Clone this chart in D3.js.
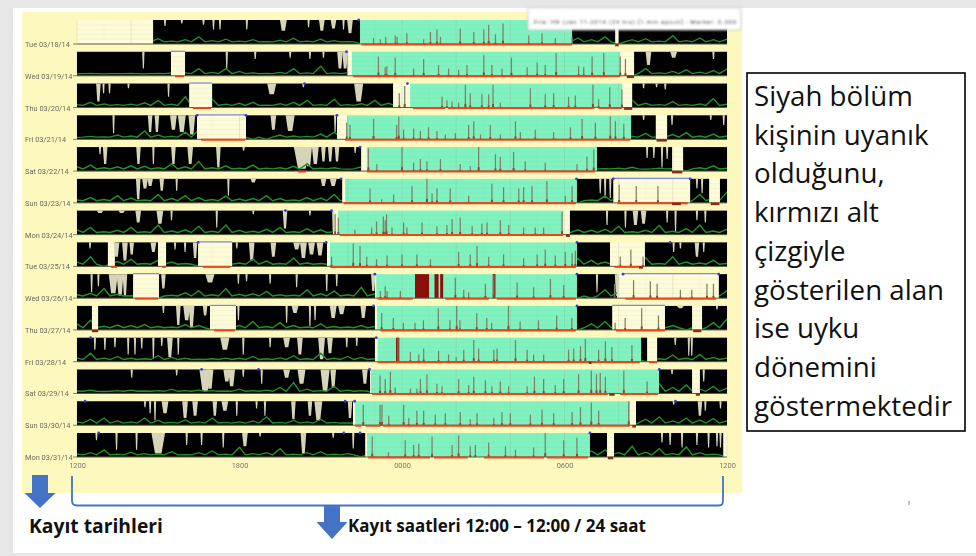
<!DOCTYPE html>
<html>
<head>
<meta charset="utf-8">
<script src="https://cdn.jsdelivr.net/npm/d3@7"></script>
<style>
  html, body { margin: 0; padding: 0; background: #fff; }
  svg { display: block; }
</style>
</head>
<body>
<svg id="chart" width="976" height="556"></svg>
<script>
// Recording days, top to bottom
const days = ["Tue 03/18/14", "Wed 03/19/14", "Thu 03/20/14", "Fri 03/21/14", "Sat 03/22/14", "Sun 03/23/14", "Mon 03/24/14",
  "Tue 03/25/14", "Wed 03/26/14", "Thu 03/27/14", "Fri 03/28/14", "Sat 03/29/14", "Sun 03/30/14", "Mon 03/31/14"];
const hourTicks = [0, 6, 12, 18, 24];
const hourLabels = ["1200", "1800", "0000", "0600", "1200"];

// All times are hours after 12:00 noon (0 - 24)
const wakeBlocks = [
  [[2.81, 10.45], [18.28, 19.87], [20.0, 24]],
  [[0, 3.47], [3.99, 9.98], [20.57, 24]],
  [[0, 4.14], [4.99, 11.67], [20.5, 24]],
  [[0, 4.43], [6.24, 9.6], [20.46, 21.37], [21.79, 24]],
  [[0, 10.49], [19.2, 21.97], [22.38, 24]],
  [[0, 9.79], [18.46, 19.8], [22.64, 23.34], [23.74, 24]],
  [[0, 9.45], [18.2, 24]],
  [[0, 1.14], [1.4, 2.99], [3.29, 4.47], [5.73, 9.23], [18.46, 19.68], [20.97, 24]],
  [[0, 2.07], [3.03, 11.0], [18.46, 19.94], [23.7, 24]],
  [[0, 0.55], [0.78, 4.91], [5.87, 11.0], [18.46, 19.76], [21.71, 22.71], [23.08, 24]],
  [[0, 11.0], [20.83, 21.05], [21.42, 24]],
  [[0, 10.82], [21.49, 22.71], [23.0, 24]],
  [[0, 10.19], [20.64, 24]],
  [[0, 10.64], [18.94, 19.57], [19.83, 23.86]]
];
const sleepBlocks = [
  [10.45, 18.28], [10.15, 20.05], [12.3, 20.13], [9.97, 20.46], [10.7, 19.2], [9.9, 18.46], [9.64, 17.95],
  [9.34, 18.46], [11.05, 18.46], [11.08, 18.46], [11.1, 20.83], [10.85, 21.49], [10.27, 20.42], [10.71, 18.94]
];
const redLines = [
  [[10.5, 18.28]],
  [[3.62, 3.95], [10.2, 20.05]],
  [[4.28, 4.95], [12.4, 13.6], [13.7, 19.1], [19.25, 20.12]],
  [[4.58, 6.2], [9.9, 20.43]],
  [[8.16, 8.46], [10.7, 19.12]],
  [[9.85, 18.42], [19.95, 22.55]],
  [[9.7, 17.95]],
  [[1.26, 1.48], [3.14, 3.29], [4.65, 5.65], [9.35, 18.42], [19.85, 20.9]],
  [[2.14, 2.99], [11.1, 12.4], [13.6, 15.2], [15.5, 18.42], [20.25, 23.6]],
  [[5.06, 5.83], [11.2, 18.42], [19.9, 21.71]],
  [[11.1, 20.78], [21.12, 21.42]],
  [[10.9, 19.6], [20.05, 21.45]],
  [[10.27, 10.5], [10.65, 11.2], [11.3, 20.4]],
  [[10.75, 13.03], [13.18, 14.43], [15.03, 17.24], [17.35, 18.86]]
];
const darkMarks = [
  [[19.87, 20.0]], [[20.3, 20.57]], [[20.2, 20.5]], [[21.4, 21.78]], [[21.97, 22.35]], [[21.97, 22.3], [23.4, 23.72]], [[18.05, 18.2]],
  [[20.75, 20.9]], [], [[0.55, 0.78], [22.75, 23.05]], [[18.9, 19.0]], [[19.65, 19.85], [22.85, 23.0]], [[20.5, 20.64]], [[19.6, 19.8]]
];
// Top edge of the rest intervals
const blueLines = [
  [], [[3.47, 3.99]], [[4.14, 4.99]], [[4.43, 6.24]], [], [[19.8, 22.64]], [], [[4.47, 5.73]],
  [[2.07, 3.03], [20.16, 23.7]], [[4.91, 5.87], [19.76, 21.71]], [], [], [], []
];
const blueDots = [
  [10.4], [9.95], [8.4, 12.2], [4.43, 6.24, 9.6], [10.45], [9.75, 18.44, 19.8, 22.64], [7.7, 9.4],
  [4.47, 9.2, 18.46, 21.9], [11.0, 18.46, 20.16, 23.7], [10.95, 18.46], [0.5, 11.05], [4.6, 6.7, 10.8, 21.5], [0.3, 9.9, 10.25, 22.1], [0.8, 9.85, 10.45, 18.94]
];
// Off-wrist / very high activity blocks during the night
const offBlocks = [[], [], [], [], [], [], [], [], [[12.48, 13.0], [13.2, 13.35], [13.41, 13.52], [15.35, 15.45]], [], [[11.78, 11.9]], [], [], []];

// [hour, height in percent of the row] activity spikes during rest
const spikes = [
  [[10.95, 25], [11.2, 20], [11.4, 30], [11.75, 35], [11.82, 30], [12.18, 45], [12.8, 20], [13.05, 50], [13.29, 60], [13.42, 30], [14.15, 65], [14.65, 50], [15.02, 60], [15.2, 80], [15.45, 40], [15.73, 85], [16.68, 35], [17.17, 45], [17.66, 25], [18.28, 30]],
  [[11.13, 80], [11.38, 35], [11.44, 40], [11.75, 75], [12.43, 30], [12.8, 70], [13.35, 45], [13.72, 30], [14.09, 25], [14.4, 45], [15.02, 85], [15.32, 45], [15.69, 30], [16.04, 75], [16.62, 35], [16.99, 55], [17.29, 45], [17.69, 95], [18.52, 40], [18.71, 35], [19.02, 80], [19.45, 95], [20.06, 80], [20.25, 70]],
  [[11.9, 60], [12.1, 90], [13.48, 45], [13.66, 30], [13.85, 25], [14.09, 20], [14.34, 95], [14.52, 60], [14.95, 55], [15.2, 55], [15.36, 95], [15.63, 20], [16.74, 80], [17.29, 55], [17.6, 60], [18.15, 45], [18.4, 50], [19.05, 95], [19.26, 35], [19.67, 85], [20.12, 75]],
  [[9.96, 70], [10.08, 60], [10.95, 85], [11.8, 60], [11.88, 95], [12.06, 40], [12.43, 45], [12.68, 35], [12.98, 50], [13.29, 35], [13.6, 20], [13.97, 25], [14.46, 60], [14.65, 75], [14.9, 20], [15.26, 60], [15.63, 20], [16.19, 75], [16.37, 30], [16.92, 40], [17.6, 30], [18.22, 50], [18.65, 85], [19.14, 70], [19.69, 95], [19.88, 75], [20.19, 65]],
  [[10.76, 95], [11.07, 30], [12.0, 100], [12.43, 35], [12.68, 50], [12.92, 40], [13.42, 50], [14.15, 30], [14.52, 20], [14.83, 100], [15.45, 70], [15.63, 60], [16.12, 80], [16.55, 40], [17.29, 35], [18.46, 30], [18.83, 60], [19.08, 90]],
  [[10.82, 60], [11.25, 15], [11.69, 35], [12.37, 70], [12.92, 100], [13.11, 40], [13.29, 60], [13.78, 60], [14.46, 30], [15.32, 80], [15.75, 65], [16.31, 60], [16.49, 65], [16.8, 70], [17.35, 90], [18.03, 30], [18.28, 70], [20.02, 75], [20.65, 70], [21.45, 70]],
  [[9.53, 85], [9.65, 70], [10.26, 20], [10.88, 30], [11.06, 55], [11.31, 75], [11.38, 60], [11.43, 85], [11.63, 30], [12.06, 50], [12.18, 30], [12.74, 50], [13.29, 35], [13.66, 40], [13.85, 65], [14.15, 70], [14.59, 35], [14.95, 45], [15.14, 50], [15.63, 60], [15.94, 40], [16.49, 30], [16.92, 30], [17.23, 30], [17.91, 95]],
  [[9.4, 40], [10.2, 95], [10.45, 85], [10.7, 40], [11.06, 30], [11.45, 45], [12.0, 50], [12.55, 50], [13.05, 30], [14.09, 60], [14.52, 50], [14.77, 85], [15.2, 40], [15.75, 50], [16.49, 35], [16.99, 50], [17.29, 70], [17.66, 45], [18.03, 60], [18.28, 55], [18.4, 65], [20.06, 40], [20.45, 70], [20.9, 40]],
  [[11.2, 30], [11.38, 50], [11.45, 30], [11.94, 30], [13.97, 85], [14.28, 35], [14.46, 25], [15.08, 60], [15.39, 95], [16.25, 65], [16.86, 45], [17.48, 80], [17.97, 55], [19.85, 60], [20.55, 75], [21.17, 70], [21.42, 60], [22.28, 35], [22.7, 35], [23.26, 60], [23.5, 60]],
  [[11.25, 70], [11.68, 50], [12.05, 30], [12.48, 30], [12.79, 40], [13.34, 90], [13.77, 40], [14.02, 100], [14.14, 40], [14.76, 70], [15.13, 50], [15.31, 30], [15.93, 100], [16.36, 35], [17.04, 40], [17.71, 60], [18.27, 50], [19.87, 30], [20.24, 50], [20.85, 90], [21.47, 60]],
  [[11.85, 100], [12.31, 40], [12.62, 30], [12.8, 55], [13.35, 45], [13.72, 30], [14.0, 20], [14.28, 50], [14.65, 90], [14.83, 55], [15.39, 50], [15.51, 55], [16.19, 90], [16.62, 50], [16.86, 30], [17.23, 30], [18.15, 50], [18.34, 55], [18.59, 65], [18.77, 95], [19.26, 50], [19.51, 85], [19.75, 60], [20.49, 70]],
  [[11.19, 75], [11.38, 60], [11.57, 90], [11.75, 25], [12.31, 20], [12.55, 20], [12.68, 60], [12.92, 80], [13.29, 40], [13.48, 30], [14.09, 60], [14.46, 35], [14.65, 70], [15.08, 55], [15.32, 30], [15.63, 50], [15.94, 30], [16.62, 30], [16.89, 70], [17.23, 60], [17.66, 35], [17.97, 60], [18.52, 80], [18.99, 95], [19.18, 80], [19.32, 85], [19.51, 70], [20.19, 95], [21.05, 50]],
  [[10.57, 85], [11.19, 85], [11.26, 85], [11.51, 40], [12.06, 85], [12.25, 30], [12.55, 60], [12.8, 60], [13.23, 45], [13.6, 50], [14.15, 55], [14.52, 25], [14.77, 50], [15.39, 30], [15.69, 55], [16.0, 50], [16.74, 45], [17.17, 65], [17.6, 50], [18.28, 55], [18.59, 75], [18.99, 95], [19.26, 60], [20.37, 100]],
  [[10.9, 85], [11.5, 20], [12.12, 70], [12.43, 50], [12.62, 55], [13.11, 85], [13.85, 50], [14.09, 90], [14.52, 45], [14.71, 50], [15.2, 60], [15.82, 45], [16.19, 30], [16.86, 40], [17.29, 100], [17.97, 70], [18.46, 80]]
];

// [hour, depth in percent of the row, optional width in hours] gaps in the black wake trace
const notches = [
  [[3.25, 25], [3.87, 15], [4.67, 20], [5.04, 40], [5.28, 40], [6.27, 40], [7.62, 45, 0.3], [8.55, 30], [9.04, 45, 0.25], [9.47, 35, 0.25], [9.84, 40], [10.08, 55, 0.25], [22.28, 30], [22.59, 30], [23.76, 30]],
  [[2.45, 70], [5.53, 70], [6.58, 30], [7.87, 25], [8.6, 30], [9.1, 25], [9.71, 70, 0.25], [9.9, 70, 0.25], [21.1, 55, 0.25], [22.03, 25, 0.3], [23.5, 30]],
  [[0.79, 75, 0.2], [0.98, 40], [1.2, 40], [1.9, 20], [3.38, 55], [7.19, 45, 0.4], [8.36, 15], [10.4, 75, 0.4], [20.92, 20], [21.4, 15], [21.72, 25]],
  [[1.35, 75], [2.7, 70, 0.2], [2.95, 70, 0.2], [3.56, 60, 0.3], [3.87, 70, 0.35], [4.24, 80, 0.3], [7.25, 60, 0.25], [7.87, 65, 0.4], [9.53, 70], [20.92, 20], [21.97, 40], [23.4, 20], [23.88, 40]],
  [[0.85, 30], [1.04, 70, 0.2], [2.27, 70, 0.2], [2.82, 70], [3.56, 70, 0.2], [4.18, 70, 0.25], [5.22, 85, 0.2], [6.15, 15], [8.3, 90, 0.7], [8.55, 80, 0.3], [8.8, 70, 0.3], [9.1, 60, 0.2], [9.35, 60, 0.2], [9.6, 60, 0.2], [10.27, 25], [21.05, 45], [21.3, 45], [21.6, 85], [21.79, 50]],
  [[2.26, 85, 0.2], [2.51, 40, 0.25], [2.7, 30, 0.25], [3.13, 50, 0.2], [3.68, 50], [5.59, 70], [6.51, 15, 0.25], [9.1, 30, 0.25], [9.46, 30, 0.3], [19.32, 60], [19.5, 80], [19.69, 80], [22.89, 40], [23.08, 60]],
  [[0.85, 10, 0.3], [1.65, 10, 0.3], [2.26, 50, 0.25], [3.06, 55, 0.3], [3.49, 40], [5.16, 70], [6.51, 15], [7.68, 75, 0.2], [8.6, 20], [9.46, 90], [19.57, 60], [20.25, 70], [20.62, 60, 0.25], [20.92, 55, 0.25], [21.79, 50], [22.1, 90], [22.89, 40], [23.2, 50]],
  [[0.48, 25], [1.46, 60, 0.25], [1.77, 75, 0.25], [2.02, 50, 0.2], [2.82, 40, 0.25], [3.62, 30], [3.99, 40], [4.36, 65, 0.2], [5.9, 25], [6.45, 75, 0.25], [7.25, 60, 0.25], [8.11, 30, 0.3], [8.36, 65, 0.3], [8.66, 50, 0.3], [8.97, 55, 0.3], [22.03, 40], [22.28, 25], [22.89, 60, 0.2], [23.14, 40]],
  [[0.54, 75], [0.79, 50], [1.34, 80, 0.4], [1.59, 90, 0.3], [1.77, 90, 0.2], [3.19, 60, 0.2], [4.91, 35, 0.4], [5.96, 40], [6.26, 30], [7.13, 40], [8.11, 55], [9.22, 70], [9.59, 50], [10.94, 70, 0.2], [19.2, 75], [19.94, 90, 0.2]],
  [[3.19, 30], [3.74, 80, 0.2], [4.05, 60, 0.3], [4.23, 90, 0.25], [4.73, 40, 0.2], [5.96, 60], [7.74, 70], [8.05, 30, 0.3], [8.6, 85], [8.79, 60], [9.46, 50, 0.3], [9.77, 35, 0.3], [10.57, 50, 0.25], [22.28, 10, 0.3], [23.63, 15]],
  [[0.66, 50], [1.03, 50], [1.4, 40], [1.89, 70], [2.14, 70], [2.39, 45], [2.82, 85], [3.13, 35], [3.43, 80, 0.25], [3.74, 70], [5.46, 50, 0.4], [6.14, 70], [7.13, 40], [7.74, 40, 0.3], [8.23, 70, 0.25], [9.03, 90, 0.3], [9.34, 65, 0.25], [9.96, 40], [10.33, 35], [22.09, 30], [22.59, 75], [22.7, 75]],
  [[2.02, 35], [3.68, 25], [4.73, 90, 0.5], [4.91, 80, 0.3], [5.53, 50, 0.3], [5.71, 70, 0.3], [6.14, 30], [6.82, 60], [7.74, 35, 0.3], [8.29, 60, 0.35], [9.16, 90, 0.4], [9.46, 75, 0.25], [10.63, 60, 0.25], [21.97, 20], [23.14, 50]],
  [[2.51, 25], [2.7, 50], [2.88, 80], [3.25, 50, 0.3], [3.99, 70, 0.25], [4.36, 60, 0.25], [5.09, 60, 0.2], [5.46, 40, 0.3], [5.9, 60], [6.63, 30], [6.94, 60], [7.99, 75, 0.2], [8.6, 60, 0.2], [8.91, 80, 0.35], [10.08, 70, 0.2], [22.03, 15], [23.0, 60, 0.2], [23.2, 40], [23.76, 30]],
  [[0.72, 30], [1.46, 70], [2.2, 70], [3.0, 85, 0.6], [4.05, 50], [4.6, 50], [5.4, 60], [6.2, 55, 0.25], [6.76, 15], [8.36, 85, 0.25], [9.46, 20], [10.2, 65], [21.6, 40], [21.9, 50], [22.34, 60], [22.89, 50], [23.32, 60], [23.63, 55], [23.76, 60]]
];

// Half-hourly green activity trace, percent of the row height, from 12:00
const activity = [
  [0, 0, 0, 0, 0, 0, 22, 12, 18, 30, 14, 20, 12, 18, 10, 16, 24, 12, 20, 14, 10, 0, 0, 0, 0, 0, 0, 0, 0, 0, 0, 0, 0, 0, 0, 0, 0, 25, 18, 30, 0, 18, 22, 12, 35, 14, 25, 18, 20],
  [8, 10, 8, 9, 10, 8, 10, 12, 12, 30, 14, 30, 18, 12, 10, 14, 30, 12, 40, 12, 12, 38, 14, 18, 12, 30, 14, 22, 0, 0, 0, 0, 0, 0, 0, 0, 0, 0, 0, 0, 0, 0, 30, 12, 18, 25, 15, 22, 28],
  [12, 22, 15, 12, 14, 20, 30, 14, 45, 12, 35, 14, 18, 22, 10, 16, 22, 30, 12, 35, 12, 16, 30, 18, 14, 10, 0, 0, 0, 0, 0, 0, 0, 0, 0, 0, 0, 0, 0, 0, 0, 30, 18, 12, 25, 12, 15, 38, 14],
  [8, 12, 10, 18, 14, 35, 18, 12, 30, 40, 14, 18, 10, 0, 0, 18, 14, 12, 22, 30, 12, 18, 14, 12, 10, 0, 0, 0, 0, 0, 0, 0, 0, 0, 0, 0, 0, 0, 0, 0, 0, 12, 25, 10, 20, 28, 14, 22, 14],
  [18, 25, 14, 18, 22, 20, 14, 30, 18, 40, 14, 22, 12, 25, 12, 14, 20, 30, 12, 14, 8, 18, 12, 0, 0, 0, 0, 0, 0, 0, 0, 0, 0, 0, 0, 0, 0, 0, 0, 10, 12, 16, 8, 12, 10, 0, 14, 22, 12],
  [12, 22, 14, 30, 20, 12, 35, 18, 30, 22, 14, 28, 16, 18, 30, 18, 12, 22, 20, 35, 14, 0, 0, 0, 0, 0, 0, 0, 0, 0, 0, 0, 0, 0, 0, 0, 0, 0, 12, 28, 25, 0, 0, 0, 0, 0, 35, 20, 45],
  [20, 30, 12, 18, 30, 12, 40, 15, 20, 35, 14, 40, 18, 14, 22, 30, 12, 25, 20, 12, 0, 0, 0, 0, 0, 0, 0, 0, 0, 0, 0, 0, 0, 0, 0, 0, 12, 20, 18, 22, 35, 12, 18, 38, 14, 25, 40, 15, 22],
  [18, 40, 0, 20, 30, 12, 25, 18, 12, 0, 0, 40, 14, 30, 22, 12, 35, 14, 12, 0, 0, 0, 0, 0, 0, 0, 0, 0, 0, 0, 0, 0, 0, 0, 0, 0, 0, 32, 25, 18, 0, 0, 35, 12, 40, 18, 14, 25, 12],
  [14, 20, 40, 16, 10, 0, 0, 12, 22, 30, 14, 40, 16, 18, 28, 14, 12, 35, 18, 30, 14, 45, 18, 0, 0, 0, 0, 0, 0, 0, 0, 0, 0, 0, 0, 0, 0, 0, 0, 35, 25, 0, 0, 0, 0, 0, 0, 0, 30],
  [25, 40, 15, 20, 18, 22, 14, 12, 22, 18, 0, 0, 18, 35, 14, 30, 18, 12, 25, 14, 12, 18, 14, 0, 0, 0, 0, 0, 0, 0, 0, 0, 0, 0, 0, 0, 0, 0, 25, 35, 20, 0, 0, 30, 18, 0, 0, 30, 45],
  [15, 35, 15, 22, 14, 12, 25, 18, 14, 10, 12, 15, 14, 22, 12, 16, 25, 12, 35, 14, 22, 18, 12, 0, 0, 0, 0, 0, 0, 0, 0, 0, 0, 0, 0, 0, 0, 0, 0, 0, 0, 0, 0, 12, 28, 14, 30, 18, 15],
  [10, 14, 8, 12, 14, 10, 12, 18, 12, 14, 12, 10, 18, 12, 14, 25, 45, 18, 12, 30, 14, 12, 0, 0, 0, 0, 0, 0, 0, 0, 0, 0, 0, 0, 0, 0, 0, 0, 0, 0, 0, 0, 0, 40, 25, 35, 18, 30, 22],
  [14, 25, 30, 18, 14, 30, 20, 12, 22, 14, 30, 12, 14, 18, 35, 12, 20, 14, 25, 12, 10, 0, 0, 0, 0, 0, 0, 0, 0, 0, 0, 0, 0, 0, 0, 0, 0, 0, 0, 0, 0, 0, 25, 35, 18, 30, 22, 28, 18],
  [12, 18, 30, 12, 20, 14, 12, 22, 10, 18, 25, 12, 40, 14, 18, 35, 12, 18, 22, 12, 14, 0, 0, 0, 0, 0, 0, 0, 0, 0, 0, 0, 0, 0, 30, 22, 0, 0, 25, 30, 18, 45, 20, 35, 14, 42, 18, 12, 0]
];

const wakeColor = "#000";
const sleepColor = "#7ff2c0";
const blankColor = "#fdfbd8";
const bandColor = "#4472c4";

const svg = d3.select("#chart");

// page background: grey slide edges, white slide
svg.append("rect").attr("width", 976).attr("height", 556).attr("fill", "#e6e6e6");
svg.append("rect").attr("x", 13).attr("y", 8).attr("width", 963).attr("height", 545).attr("fill", "#fff");

const chart = svg.append("g").style("filter", "blur(0.7px)");
chart.append("rect").attr("x", 22).attr("y", 12).attr("width", 720).attr("height", 481).attr("fill", "#fdf9be");

const x = d3.scaleLinear().domain([0, 24]).range([77, 727]);
const rowY = d3.scalePoint().domain(days).range([20, 433]);
const rowH = 24;
const y = d3.scaleLinear().domain([0, 100]).range([rowH, 0]);
const hourGrid = d3.range(0, 25);

days.forEach((day, i) => {
  const row = chart.append("g").attr("transform", `translate(0,${rowY(day)})`);

  row.append("rect").attr("x", x(0)).attr("width", x(24) - x(0)).attr("height", rowH).attr("fill", blankColor);

  const sleep = sleepBlocks[i];
  row.append("rect").attr("x", x(sleep[0])).attr("width", x(sleep[1]) - x(sleep[0])).attr("height", rowH).attr("fill", sleepColor);

  // hour and level grid, only seen where the trace is not black
  row.selectAll(".vg").data(hourGrid).enter().append("line")
    .attr("x1", (d) => x(d)).attr("x2", (d) => x(d)).attr("y1", 0).attr("y2", rowH)
    .attr("stroke", "#8f9a80").attr("stroke-opacity", (d) => (d % 2 ? 0.08 : 0.3)).attr("stroke-width", 0.7);
  row.selectAll(".hg").data([20, 40, 60, 80]).enter().append("line")
    .attr("x1", x(0)).attr("x2", x(24)).attr("y1", (d) => y(d)).attr("y2", (d) => y(d))
    .attr("stroke", "#8f9a80").attr("stroke-opacity", 0.1).attr("stroke-width", 0.7);

  // wake periods
  row.selectAll(".wake").data(wakeBlocks[i]).enter().append("rect")
    .attr("x", (d) => x(d[0])).attr("width", (d) => x(d[1]) - x(d[0]))
    .attr("height", rowH).attr("fill", wakeColor);

  // breaks in the black trace, hanging from the top
  const notchW = 0.1;
  row.selectAll(".notch").data(notches[i]).enter().append("path")
    .attr("d", (d) => {
      const w = d[2] || notchW;
      return d3.line()([[x(d[0] - w * 0.42), 0], [x(d[0] - w * 0.2), y(100 - d[1])], [x(d[0] + w * 0.2), y(100 - d[1])], [x(d[0] + w * 0.42), 0]]) + "Z";
    })
    .attr("fill", "#d8d4ba");

  // green trace, only in wake periods: each half hour sample is a peak over a low floor
  const clipId = "wake-clip-" + i;
  const clip = row.append("clipPath").attr("id", clipId);
  clip.selectAll("rect").data(wakeBlocks[i]).enter().append("rect")
    .attr("x", (d) => x(d[0])).attr("width", (d) => x(d[1]) - x(d[0])).attr("height", rowH);
  const peaks = activity[i].flatMap((v, k) => [[k / 2, v], [k / 2 + 0.22, 9]]);
  const line = d3.line().x((d) => x(d[0])).y((d) => y(d[1]));
  row.append("g").attr("clip-path", `url(#${clipId})`)
    .append("path").attr("d", line(peaks)).attr("fill", "none").attr("stroke", "#209328").attr("stroke-width", 1.4);

  // high activity blocks
  row.selectAll(".off").data(offBlocks[i]).enter().append("rect")
    .attr("x", (d) => x(d[0])).attr("width", (d) => x(d[1]) - x(d[0]))
    .attr("height", rowH).attr("fill", "#8a0f08");

  // activity spikes
  row.selectAll(".spike").data(spikes[i]).enter().append("line")
    .attr("x1", (d) => x(d[0])).attr("x2", (d) => x(d[0])).attr("y1", rowH).attr("y2", (d) => y(d[1]))
    .attr("stroke", "#7f8068").attr("stroke-width", 1.25);
  row.selectAll(".spikeBase").data(spikes[i]).enter().append("line")
    .attr("x1", (d) => x(d[0])).attr("x2", (d) => x(d[0])).attr("y1", rowH).attr("y2", (d) => y(d[1] * 0.16))
    .attr("stroke", "#8f4a28").attr("stroke-width", 2);

  // baseline of the row
  row.append("line").attr("x1", x(0)).attr("x2", x(24)).attr("y1", rowH).attr("y2", rowH)
    .attr("stroke", "#5a5a44").attr("stroke-width", 1);
  row.append("line").attr("x1", 73).attr("x2", x(0)).attr("y1", rowH).attr("y2", rowH)
    .attr("stroke", "#66664a").attr("stroke-width", 0.8);

  // rest interval marks
  row.selectAll(".red").data(redLines[i]).enter().append("line")
    .attr("x1", (d) => x(d[0])).attr("x2", (d) => x(d[1])).attr("y1", rowH + 0.5).attr("y2", rowH + 0.5)
    .attr("stroke", "#f0431a").attr("stroke-width", 2);
  row.selectAll(".dark").data(darkMarks[i]).enter().append("line")
    .attr("x1", (d) => x(d[0])).attr("x2", (d) => x(d[1])).attr("y1", rowH + 1).attr("y2", rowH + 1)
    .attr("stroke", "#8e2a12").attr("stroke-width", 2.6);
  row.selectAll(".blue").data(blueLines[i]).enter().append("line")
    .attr("x1", (d) => x(d[0])).attr("x2", (d) => x(d[1])).attr("y1", -0.5).attr("y2", -0.5)
    .attr("stroke", "#7a86e8").attr("stroke-width", 1.2);
  row.selectAll(".dot").data(blueDots[i]).enter().append("circle")
    .attr("cx", (d) => x(d)).attr("cy", 0).attr("r", 1.4).attr("fill", "#3a3ae0");

  // date label
  row.append("text").attr("x", 25).attr("y", rowH + 3).text(day)
    .attr("font-family", "Roboto, sans-serif").attr("font-size", 7.4).attr("fill", "#6b6b5c");
});

// hour axis
const xAxis = d3.axisBottom(x).tickValues(hourTicks).tickSize(0).tickPadding(4)
  .tickFormat((d, i) => hourLabels[i]);
const axisG = chart.append("g").attr("transform", "translate(0,459)").call(xAxis);
axisG.select(".domain").remove();
axisG.selectAll("text").attr("font-family", "Roboto, sans-serif").attr("font-size", 7.4).attr("fill", "#77776a");

// white legend strip covering the top right of the chart
const legendBox = svg.append("g").style("filter", "blur(0.9px)");
legendBox.append("rect").attr("x", 528).attr("y", 8).attr("width", 213).attr("height", 22)
  .attr("fill", "#fff").attr("stroke", "#bdbdbd").attr("stroke-width", 0.8);
legendBox.append("text").attr("x", 534).attr("y", 24).text("File: HR (Jan 11-2014 (24 hrs) [1 min epoch] - Marker: 0.000")
  .attr("font-family", "Roboto, sans-serif").attr("font-size", 6).attr("fill", "#555").attr("textLength", 202);

// annotation box
const noteLines = ["Siyah bölüm", "kişinin uyanık", "olduğunu,", "kırmızı alt", "çizgiyle", "gösterilen alan", "ise uyku", "dönemini", "göstermektedir"];
svg.append("rect").attr("x", 747).attr("y", 73).attr("width", 218).attr("height", 358)
  .attr("fill", "#fff").attr("stroke", "#000").attr("stroke-width", 1.6);
svg.append("g").selectAll("text").data(noteLines).enter().append("text")
  .attr("x", 754).attr("y", (d, i) => 106 + i * 38.7).text((d) => d)
  .attr("font-family", "'Open Sans', sans-serif").attr("font-size", 27.7).attr("fill", "#111");

// arrows and bracket
const arrow = d3.line();
const downArrow = (cx, top, headTop, tip, shaft, head) => arrow([
  [cx - shaft, top], [cx + shaft, top], [cx + shaft, headTop], [cx + head, headTop],
  [cx, tip], [cx - head, headTop], [cx - shaft, headTop]
]) + "Z";
svg.append("path").attr("d", downArrow(40, 475, 493, 508, 8, 15.5)).attr("fill", bandColor);
svg.append("path").attr("d", downArrow(332, 506, 522, 539, 8, 15.5)).attr("fill", bandColor);
svg.append("path")
  .attr("d", "M72,476 V501 Q72,505.5 77,505.5 H719 Q723,505.5 723,501 V476")
  .attr("fill", "none").attr("stroke", bandColor).attr("stroke-width", 1.8);

// captions
svg.append("text").attr("x", 29).attr("y", 533).text("Kayıt tarihleri")
  .attr("font-family", "'Open Sans', sans-serif").attr("font-weight", 700).attr("font-size", 19.3).attr("fill", "#111");
svg.append("text").attr("x", 348).attr("y", 532).text("Kayıt saatleri 12:00 – 12:00 / 24 saat")
  .attr("font-family", "'Open Sans', sans-serif").attr("font-weight", 700).attr("font-size", 17).attr("fill", "#111");

// tiny mark near the lower right of the slide
svg.append("line").attr("x1", 909).attr("x2", 909).attr("y1", 501).attr("y2", 505).attr("stroke", "#888").attr("stroke-width", 1);
</script>
</body>
</html>
